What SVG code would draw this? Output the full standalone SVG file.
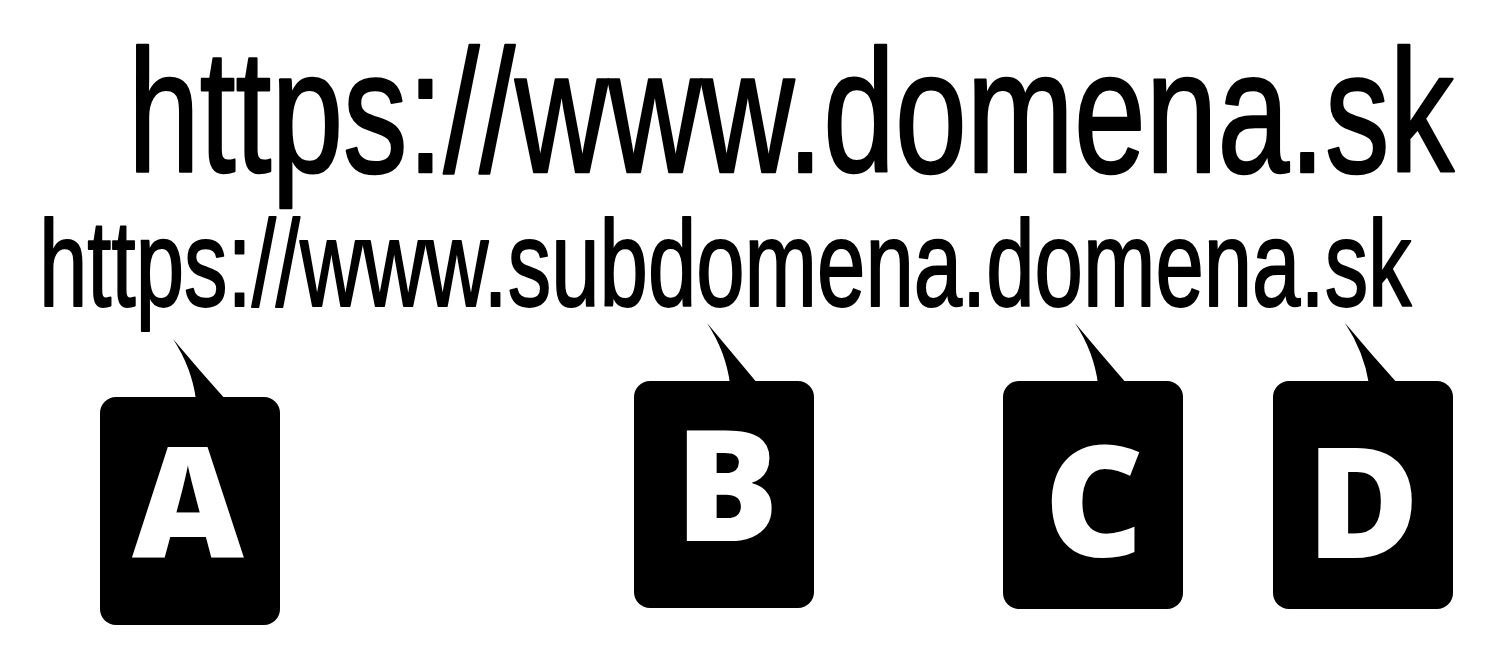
<svg xmlns="http://www.w3.org/2000/svg" width="1500" height="660" viewBox="0 0 1500 660">
<style>
.url{font-family:"Liberation Sans",Arial,sans-serif;fill:#000;stroke:#000;stroke-linejoin:round}
.box{fill:#000}
.lbl{font-family:"Open Sans","Liberation Sans",sans-serif;font-weight:800;font-size:154px;fill:#fff;text-anchor:middle}
</style>
<rect width="1500" height="660" fill="#fff"/>
<g id="url-top"><text class="url" transform="translate(128,172) scale(0.737,1)" x="0" y="0" font-size="175" stroke-width="2.5">https://www.domena.sk</text></g>
<g id="url-sub"><text class="url" transform="translate(39,306) scale(0.707,1)" x="0" y="0" font-size="123" stroke-width="2">https://www.subdomena.domena.sk</text></g>
<g id="connectors">
<path class="box" d="M173,339 Q192,368 196,400 L226,400 Q199,370 173,339 Z"/>
<path class="box" d="M707,323 Q726,352 730,384 L758,384 Q733,354 707,323 Z"/>
<path class="box" d="M1075,323 Q1094,352 1098,384 L1127,384 Q1101,354 1075,323 Z"/>
<path class="box" d="M1345,323 Q1364,352 1369,384 L1398,384 Q1371,354 1345,323 Z"/>
</g>
<g id="node-A"><rect class="box" x="100" y="397" width="180" height="228" rx="16"/><text class="lbl" x="188" y="558">A</text></g>
<g id="node-B"><rect class="box" x="634" y="381" width="180" height="227" rx="16"/><text class="lbl" x="727" y="541">B</text></g>
<g id="node-C"><rect class="box" x="1003" y="381" width="180" height="228" rx="16"/><text class="lbl" x="1094" y="556">C</text></g>
<g id="node-D"><rect class="box" x="1273" y="381" width="180" height="228" rx="16"/><text class="lbl" x="1363" y="558">D</text></g>
</svg>
